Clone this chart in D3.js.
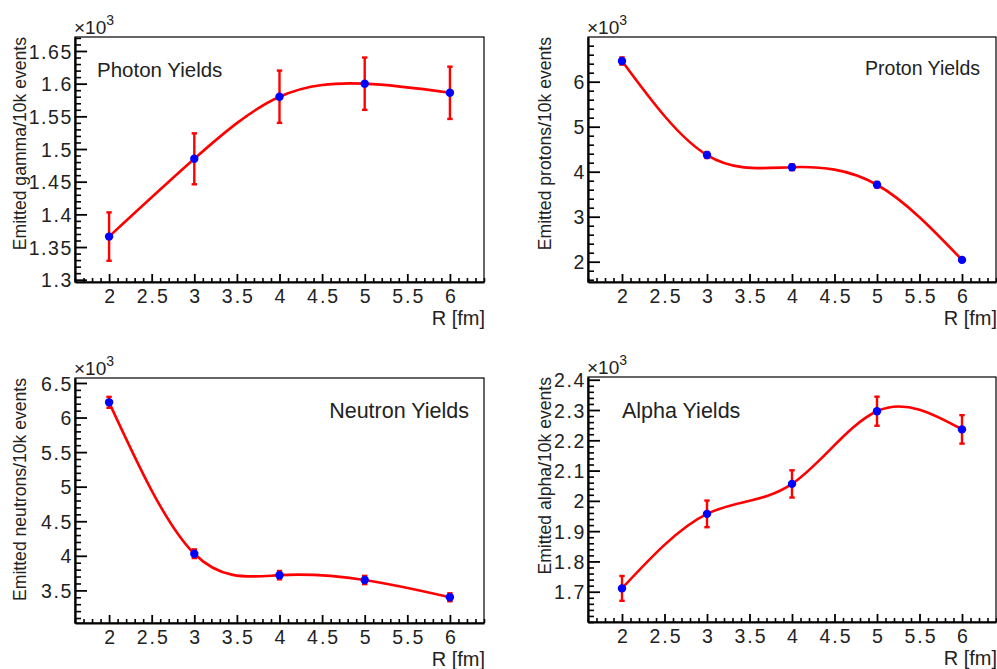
<!DOCTYPE html>
<html>
<head>
<meta charset="utf-8">
<script src="https://cdn.jsdelivr.net/npm/d3@7/dist/d3.min.js"></script>
<style>
  html, body { margin: 0; padding: 0; background: #fff; }
  svg { display: block; }
  text { font-family: "Liberation Sans", Arial, Helvetica, sans-serif; fill: #222; }
</style>
</head>
<body>
<svg id="chart" width="997" height="669"></svg>
<script>
// ---------------- data ----------------
const R = [2, 3, 4, 5, 6];

const photonYield  = [1366, 1485, 1580, 1600, 1586];
const photonErr    = [37, 39, 40, 40, 40];
const protonYield  = [6460, 4370, 4100, 3710, 2040];
const protonErr    = [80, 66, 64, 61, 45];
const neutronYield = [6220, 4030, 3720, 3650, 3400];
const neutronErr   = [79, 63, 61, 60, 58];
const alphaYield   = [1711, 1957, 2056, 2296, 2236];
const alphaErr     = [41, 44, 45, 48, 47];

const xTickLabels = ["2", "2.5", "3", "3.5", "4", "4.5", "5", "5.5", "6"];
const photonTickLabels  = ["1.3", "1.35", "1.4", "1.45", "1.5", "1.55", "1.6", "1.65"];
const protonTickLabels  = ["2", "3", "4", "5", "6"];
const neutronTickLabels = ["3.5", "4", "4.5", "5", "5.5", "6", "6.5"];
const alphaTickLabels   = ["1.7", "1.8", "1.9", "2", "2.1", "2.2", "2.3", "2.4"];

const titles = ["Photon Yields", "Proton Yields", "Neutron Yields", "Alpha Yields"];
const yTitles = ["Emitted gamma/10k events", "Emitted protons/10k events",
                 "Emitted neutrons/10k events", "Emitted alpha/10k events"];
const xTitle = "R [fm]";

// ---------------- layout ----------------
const panels = [
  { vals: photonYield, errs: photonErr, ticks: photonTickLabels, dom: [1296.5, 1671.4], minor: 10,
    frame: { l: 75, t: 37, r: 484, b: 282 }, ytx: 26, title: titles[0], yTitle: yTitles[0],
    ann: { x: 97, y: 77, anchor: "start", size: 20.5 } },
  { vals: protonYield, errs: protonErr, ticks: protonTickLabels, dom: [1549, 6993], minor: 200,
    frame: { l: 588, t: 37, r: 996, b: 282 }, ytx: 551, title: titles[1], yTitle: yTitles[1],
    ann: { x: 980, y: 75, anchor: "end", size: 19.5 } },
  { vals: neutronYield, errs: neutronErr, ticks: neutronTickLabels, dom: [3028, 6572], minor: 100,
    frame: { l: 75, t: 378, r: 484, b: 623 }, ytx: 26, title: titles[2], yTitle: yTitles[2],
    ann: { x: 469, y: 418, anchor: "end", size: 21.5 } },
  { vals: alphaYield, errs: alphaErr, ticks: alphaTickLabels, dom: [1600, 2409], minor: 20,
    frame: { l: 588, t: 377, r: 996, b: 622 }, ytx: 551, title: titles[3], yTitle: yTitles[3],
    ann: { x: 622, y: 418, anchor: "start", size: 21.5 } }
];

const svg = d3.select("#chart");
const tickFont = "19.5px";

panels.forEach(p => {
  const f = p.frame;
  const x = d3.scaleLinear().domain([1.6, 6.4]).range([f.l, f.r]);
  const y = d3.scaleLinear().domain(p.dom).range([f.b, f.t]);
  const g = svg.append("g");

  // frame
  g.append("rect").attr("x", f.l).attr("y", f.t).attr("width", f.r - f.l).attr("height", f.b - f.t)
    .attr("fill", "none").attr("stroke", "#000").attr("stroke-width", 1.2);

  // x axis minor ticks
  const xMinor = d3.range(16, 65).map(v => v / 10).filter(v => Math.abs(v * 2 - Math.round(v * 2)) > 1e-6);
  g.append("g").attr("transform", `translate(0,${f.b})`)
    .call(d3.axisBottom(x).tickValues(xMinor).tickSizeInner(-4).tickSizeOuter(0).tickFormat(""))
    .call(s => s.select(".domain").remove())
    .call(s => s.selectAll("line").attr("stroke", "#000").attr("stroke-width", 1.6));
  // x axis major
  const xMajor = xTickLabels.map(Number);
  g.append("g").attr("transform", `translate(0,${f.b})`)
    .call(d3.axisBottom(x).tickValues(xMajor).tickSizeInner(-8).tickSizeOuter(0)
      .tickPadding(0).tickFormat((d, i) => xTickLabels[i]))
    .call(s => s.select(".domain").attr("stroke", "#000").attr("stroke-width", 2.2))
    .call(s => s.selectAll("line").attr("stroke", "#000").attr("stroke-width", 1.8))
    .call(s => s.selectAll("text").attr("y", 21).attr("dy", 0).attr("dx", "1px")
      .style("font-size", tickFont).style("letter-spacing", "2px")
      .style("font-family", "'Liberation Sans', Arial, sans-serif")
      .attr("fill", "#222"));

  // y axis minor
  const yMajor = p.ticks.map(t => Math.round(+t * 1000));
  const yMinor = d3.range(Math.ceil(p.dom[0] / p.minor) * p.minor, p.dom[1] + 1e-6, p.minor)
    .filter(v => !yMajor.some(m => Math.abs(m - v) < 1e-6));
  g.append("g").attr("transform", `translate(${f.l},0)`)
    .call(d3.axisLeft(y).tickValues(yMinor).tickSizeInner(-6).tickSizeOuter(0).tickFormat(""))
    .call(s => s.select(".domain").remove())
    .call(s => s.selectAll("line").attr("stroke", "#000").attr("stroke-width", 1.6));
  g.append("g").attr("transform", `translate(${f.l},0)`)
    .call(d3.axisLeft(y).tickValues(yMajor).tickSizeInner(-12).tickSizeOuter(0)
      .tickPadding(2).tickFormat((d, i) => p.ticks[i]))
    .call(s => s.select(".domain").attr("stroke", "#000").attr("stroke-width", 2.2))
    .call(s => s.selectAll("line").attr("stroke", "#000").attr("stroke-width", 1.8))
    .call(s => s.selectAll("text").attr("dy", "0.36em")
      .style("font-size", tickFont).style("letter-spacing", "1.6px")
      .style("font-family", "'Liberation Sans', Arial, sans-serif")
      .attr("fill", "#222"));

  // ×10^3
  const mult = g.append("text").attr("x", f.l - 1).attr("y", f.t - 3)
    .style("font-size", "19px");
  mult.append("tspan").text("\u00d710");
  mult.append("tspan").attr("dy", -9).style("font-size", "14px").text("3");

  // y title
  g.append("text")
    .attr("transform", `translate(${p.ytx},${f.t}) rotate(-90)`)
    .attr("text-anchor", "end")
    .style("font-size", "17.6px")
    .text(p.yTitle);

  // x title
  g.append("text").attr("x", f.r + 1).attr("y", f.b + 43)
    .attr("text-anchor", "end").style("font-size", "20px").text(xTitle);

  // annotation
  g.append("text").attr("x", p.ann.x).attr("y", p.ann.y)
    .attr("text-anchor", p.ann.anchor).style("font-size", p.ann.size + "px").text(p.title);

  // smooth curve
  const pts = R.map((r, i) => [r, p.vals[i]]);
  g.append("path").datum(pts)
    .attr("d", d3.line().x(d => x(d[0])).y(d => y(d[1])).curve(d3.curveNatural))
    .attr("fill", "none").attr("stroke", "#ff0000").attr("stroke-width", 2.6);

  // error bars
  const eb = g.append("g").attr("stroke", "#ff0000").attr("stroke-width", 2.4);
  pts.forEach((d, i) => {
    const cx = x(d[0]), y1 = y(d[1] - p.errs[i]), y2 = y(d[1] + p.errs[i]);
    eb.append("line").attr("x1", cx).attr("x2", cx).attr("y1", y1).attr("y2", y2);
    eb.append("line").attr("x1", cx - 2.7).attr("x2", cx + 2.7).attr("y1", y1).attr("y2", y1);
    eb.append("line").attr("x1", cx - 2.7).attr("x2", cx + 2.7).attr("y1", y2).attr("y2", y2);
  });

  // markers
  g.append("g").selectAll("circle").data(pts).join("circle")
    .attr("cx", d => x(d[0])).attr("cy", d => y(d[1])).attr("r", 4.2).attr("fill", "#0000ff");
});
</script>
</body>
</html>
